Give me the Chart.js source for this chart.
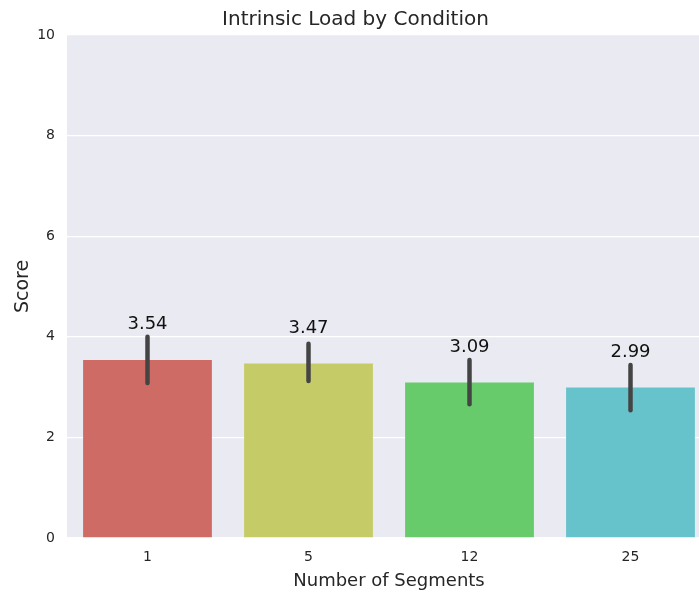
<!DOCTYPE html>
<html>
<head>
<meta charset="utf-8">
<script src="https://cdn.jsdelivr.net/npm/chart.js@4"></script>
<style>
  html, body { margin: 0; padding: 0; overflow: hidden; background: #fff; }
  #wrap { width: 712px; height: 592px; }
</style>
</head>
<body>
<div id="wrap"><canvas id="chart" width="712" height="592"></canvas></div>
<script>
const segments = ['1', '5', '12', '25'];
const scores = [3.54, 3.47, 3.09, 2.99];
const errLow = [3.08, 3.12, 2.66, 2.54];
const errHigh = [4.00, 3.86, 3.54, 3.44];
const barColors = ['#cd6b64', '#c5cb67', '#67cb6b', '#67c3cb'];
const yTicks = [0, 2, 4, 6, 8, 10];

const font = 'DejaVu Sans';

const plotBackground = {
  id: 'plotBackground',
  beforeDraw(chart) {
    const { ctx, chartArea: a } = chart;
    ctx.save();
    ctx.fillStyle = '#eaeaf2';
    ctx.fillRect(a.left, a.top, a.right - a.left, a.bottom - a.top);
    ctx.restore();
  }
};

const errorBars = {
  id: 'errorBars',
  afterDatasetsDraw(chart) {
    const { ctx } = chart;
    const y = chart.scales.y;
    const meta = chart.getDatasetMeta(0);
    ctx.save();
    ctx.strokeStyle = '#444444';
    ctx.lineWidth = 4.5;
    ctx.lineCap = 'round';
    meta.data.forEach((bar, i) => {
      ctx.beginPath();
      ctx.moveTo(bar.x, y.getPixelForValue(errLow[i]));
      ctx.lineTo(bar.x, y.getPixelForValue(errHigh[i]));
      ctx.stroke();
    });
    // value labels
    ctx.fillStyle = '#111111';
    ctx.font = '18px "' + font + '"';
    ctx.textAlign = 'center';
    ctx.textBaseline = 'middle';
    meta.data.forEach((bar, i) => {
      ctx.fillText(scores[i].toFixed(2), bar.x, y.getPixelForValue(scores[i] + 0.7));
    });
    ctx.restore();
  }
};

new Chart(document.getElementById('chart'), {
  type: 'bar',
  plugins: [plotBackground, errorBars],
  data: {
    labels: segments,
    datasets: [
      {
        data: scores,
        backgroundColor: barColors,
        borderWidth: 0,
        categoryPercentage: 0.8,
        barPercentage: 1.0,
      }
    ]
  },
  options: {
    responsive: false,
    animation: false,
    layout: { padding: { left: 0, right: 1, top: 0, bottom: 0 } },
    plugins: {
      legend: { display: false },
      tooltip: { enabled: false },
      title: {
        display: true,
        text: 'Intrinsic Load by Condition',
        color: '#262626',
        font: { family: font, size: 20, weight: 'normal' },
        padding: { top: 8, bottom: 3 },
      },
    },
    scales: {
      x: {
        grid: { display: false },
        border: { display: false },
        ticks: { color: '#262626', font: { family: font, size: 14 }, padding: 3 },
        title: {
          display: true,
          text: 'Number of Segments',
          color: '#262626',
          font: { family: font, size: 18 },
          padding: { top: 1, bottom: 0 },
        },
        afterFit(scale) { scale.height = 54; },
      },
      y: {
        min: 0,
        max: 10,
        afterBuildTicks(scale) { scale.ticks = yTicks.map(v => ({ value: v })); },
        grid: { color: '#ffffff', lineWidth: 1.3, drawTicks: false },
        border: { display: false },
        ticks: { color: '#262626', font: { family: font, size: 14 }, padding: 12 },
        title: {
          display: true,
          text: 'Score',
          color: '#262626',
          font: { family: font, size: 19 },
          padding: { top: 12, bottom: 0 },
        },
        afterFit(scale) { scale.width = 67; },
      }
    }
  }
});
</script>
</body>
</html>
